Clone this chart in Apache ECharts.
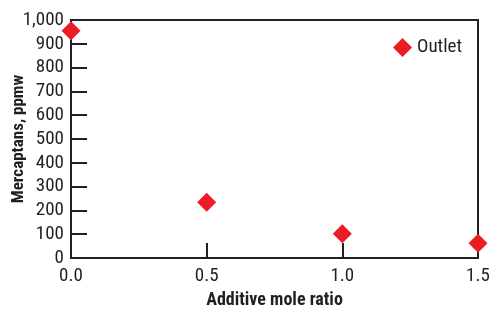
<!DOCTYPE html>
<html>
<head>
<meta charset="utf-8">
<script src="https://cdn.jsdelivr.net/npm/echarts@6/dist/echarts.min.js"></script>
<style>html,body{margin:0;padding:0;background:#fff}#c{width:500px;height:315px}</style>
</head>
<body>
<div id="c"></div>
<script>
const ratios = [0.0, 0.5, 1.0, 1.5];
const outlet = [955, 234, 102, 62];
const seriesName = 'Outlet';
const xName = 'Additive mole ratio';
const yName = 'Mercaptans, ppmw';

const FONT = '"Liberation Sans Narrow", "Roboto Condensed", "DejaVu Sans Condensed", sans-serif';
const INK = '#231f20';
const chart = echarts.init(document.getElementById('c'));
chart.setOption({
  animation: false,
  grid: { left: 71, right: 22, top: 20, bottom: 57, outerBoundsMode: 'none', containLabel: false, show: true, borderColor: INK, borderWidth: 2, backgroundColor: 'transparent' },
  legend: {
    data: [seriesName], left: 388, top: 33, icon: 'diamond', itemWidth: 19, itemHeight: 19, itemGap: 6,
    textStyle: { fontFamily: FONT, fontSize: 19, color: INK }
  },
  xAxis: {
    type: 'value', min: 0, max: 1.5, interval: 0.5,
    name: xName, nameLocation: 'middle', nameGap: 33, nameMoveOverlap: false,
    nameTextStyle: { fontFamily: FONT, fontSize: 18, fontWeight: 'bold', color: INK },
    axisLine: { lineStyle: { color: INK, width: 2 } },
    axisTick: { inside: true, length: 15, lineStyle: { color: INK, width: 2 } },
    axisLabel: { fontFamily: FONT, fontSize: 19, color: INK, margin: 9, formatter: v => v.toFixed(1) },
    splitLine: { show: false }
  },
  yAxis: {
    type: 'value', min: 0, max: 1000, interval: 100,
    name: yName, nameLocation: 'middle', nameGap: 44, nameMoveOverlap: false,
    nameTextStyle: { fontFamily: FONT, fontSize: 17, fontWeight: 'bold', color: INK },
    axisLine: { show: true, lineStyle: { color: INK, width: 2 } },
    axisTick: { show: true, inside: true, length: 16, lineStyle: { color: INK, width: 2 } },
    axisLabel: { fontFamily: FONT, fontSize: 19, color: INK, margin: 7, formatter: v => v.toLocaleString('en-US') },
    splitLine: { show: false }
  },
  series: [{
    name: seriesName, type: 'scatter', symbol: 'diamond', symbolSize: 19,
    itemStyle: { color: '#ed1c24', opacity: 1 },
    data: ratios.map((r, i) => [r, outlet[i]])
  }]
});
</script>
</body>
</html>
